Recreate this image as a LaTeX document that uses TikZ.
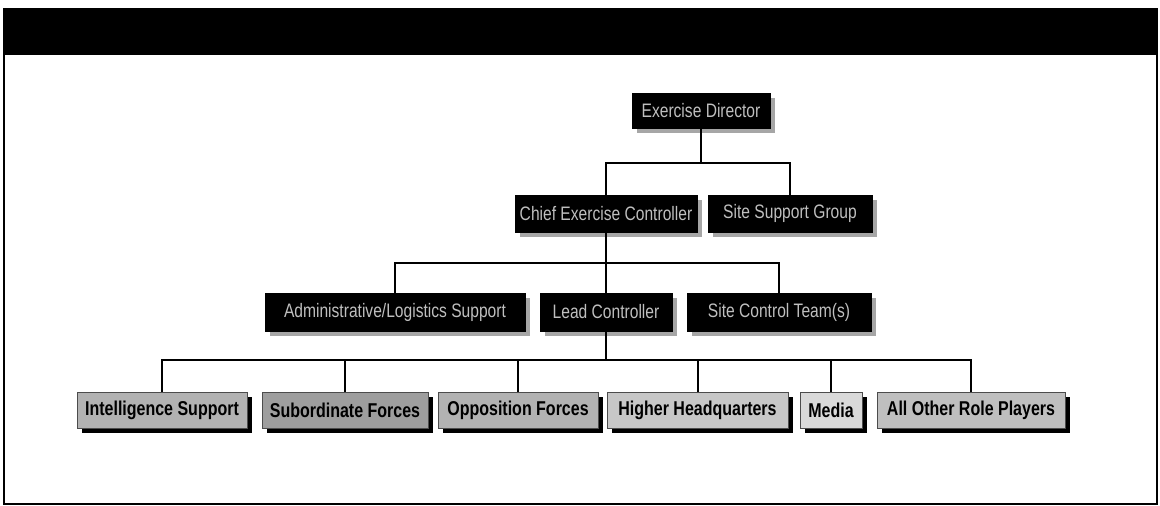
\documentclass[tikz,border=0pt]{standalone}
\usepackage{fontspec}
\newfontfamily\narrowfont[FakeStretch=0.8]{Liberation Sans}
\begin{document}
\begin{tikzpicture}[x=1pt,y=-1pt,
  darkbox/.style={fill=black, draw=black, text=black!25, font=\narrowfont\fontsize{19.5}{21}\selectfont,
    inner sep=0pt, minimum height=36pt},
  lightbox/.style={fill=black!30, draw=black!70, text=black, font=\narrowfont\bfseries\fontsize{20}{22}\selectfont,
    inner sep=0pt, minimum height=36pt},
  conn/.style={draw=black, line width=2pt},
]
\useasboundingbox (0,0) rectangle (1160,506);
% frame and header bar
\fill[black] (3,8) rectangle (1158,55);
\draw[line width=1.8pt] (4,55) -- (4,504) -- (1157,504) -- (1157,55);

% shadows for boxes
\newcommand{\gshadow}[4]{\fill[black!35] (#1+5,#2+5) rectangle (#3+5,#4+5);}
\newcommand{\kshadow}[4]{\fill[black] (#1+5,#2+5) rectangle (#3+5,#4+5);}
\gshadow{632}{93}{770}{128}
\gshadow{515}{195}{697}{232}
\gshadow{708}{195}{872}{232}
\gshadow{265}{293}{525}{331}
\gshadow{540}{293}{672}{331}
\gshadow{687}{293}{871}{331}
\kshadow{77}{392}{247}{428}
\kshadow{262}{392}{428}{428}
\kshadow{438}{392}{598}{428}
\kshadow{607}{392}{788}{428}
\kshadow{800}{392}{862}{428}
\kshadow{877}{392}{1065}{428}

% level 1
\node[darkbox, minimum width=138pt, minimum height=35pt] (ed) at (701,110.5) {Exercise Director};
% level 2
\node[darkbox, minimum width=182pt, minimum height=37pt] (cc) at (606,213.5) {Chief Exercise Controller};
\node[darkbox, minimum width=164pt, minimum height=37pt] (ss) at (790,213.5) {Site Support Group};
% level 3
\node[darkbox, minimum width=260pt, minimum height=38pt] (adm) at (395,312) {Administrative/Logistics Support};
\node[darkbox, minimum width=132pt, minimum height=38pt] (lead) at (606,312) {Lead Controller};
\node[darkbox, minimum width=184pt, minimum height=38pt] (site) at (779,312) {Site Control Team(s)};
% level 4
\node[lightbox, minimum width=170pt] (intel) at (162,410) {Intelligence Support};
\node[lightbox, minimum width=166pt, fill=black!38] (sub) at (345,410) {Subordinate Forces};
\node[lightbox, minimum width=160pt] (opp) at (518,410) {Opposition Forces};
\node[lightbox, minimum width=181pt, fill=black!22] (hhq) at (697.5,410) {Higher Headquarters};
\node[lightbox, minimum width=62pt, fill=black!15] (media) at (831,410) {Media};
\node[lightbox, minimum width=188pt, fill=black!25] (aorp) at (971,410) {All Other Role Players};

% bus coordinates
\coordinate (b1) at (0,163);
\coordinate (b2) at (0,263);
\coordinate (b3) at (0,360);

% connectors
\draw[conn] (ed.south) -- (ed.south |- b1);
\draw[conn] (cc.north) -- (cc.north |- b1) -| (ss.north);
\draw[conn] (cc.south) -- (cc.south |- b2);
\draw[conn] (adm.north) -- (adm.north |- b2) -| (site.north);
\draw[conn] (lead.north) -- (lead.north |- b2);
\draw[conn] (lead.south) -- (lead.south |- b3);
\draw[conn] (intel.north) -- (intel.north |- b3) -| (aorp.north);
\draw[conn] (sub.north) -- (sub.north |- b3);
\draw[conn] (opp.north) -- (opp.north |- b3);
\draw[conn] (hhq.north) -- (hhq.north |- b3);
\draw[conn] (media.north) -- (media.north |- b3);
\end{tikzpicture}
\end{document}
